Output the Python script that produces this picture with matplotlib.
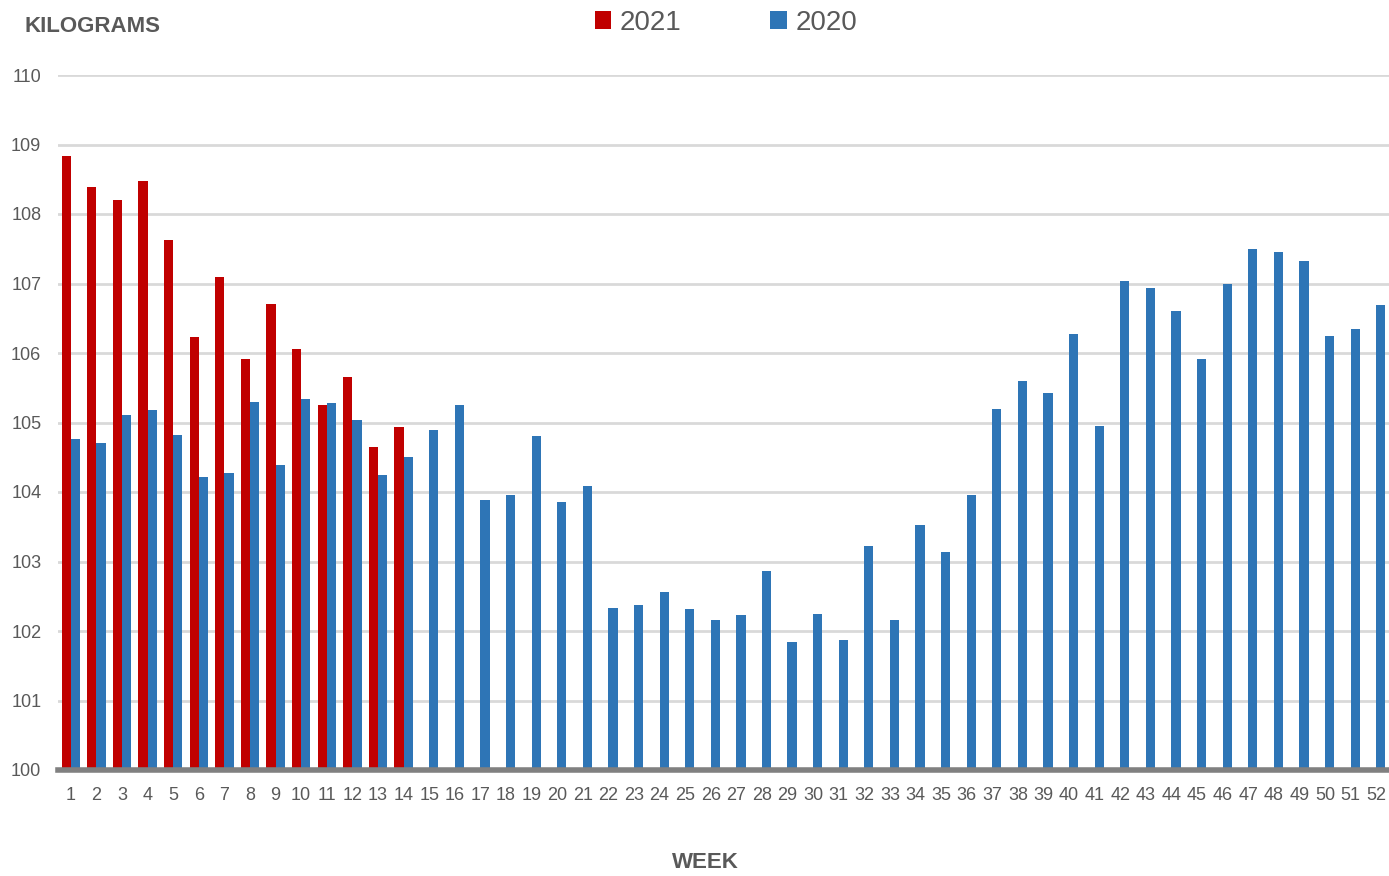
import matplotlib
matplotlib.use("Agg")
import matplotlib.pyplot as plt
import numpy as np
from matplotlib import font_manager

weeks = list(range(1, 53))
kg_2021 = [108.83, 108.39, 108.20, 108.48, 107.62, 106.23, 107.10, 105.92, 106.71, 106.06,
           105.25, 105.65, 104.65, 104.93]
kg_2020 = [104.76, 104.71, 105.11, 105.18, 104.82, 104.22, 104.27, 105.29, 104.39, 105.34,
           105.28, 105.03, 104.25, 104.50, 104.89, 105.25, 103.89, 103.95, 104.81, 103.85,
           104.08, 102.33, 102.38, 102.56, 102.32, 102.16, 102.23, 102.86, 101.84, 102.24,
           101.87, 103.22, 102.16, 103.52, 103.14, 103.95, 105.20, 105.59, 105.42, 106.27,
           104.95, 107.04, 106.93, 106.60, 105.92, 107.00, 107.49, 107.45, 107.32, 106.24,
           106.35, 106.69]
y_ticks = list(range(100, 111))

names = {f.name for f in font_manager.fontManager.ttflist}
narrow = 'Liberation Sans Narrow' if 'Liberation Sans Narrow' in names else 'Liberation Sans'
plt.rcParams['font.family'] = [narrow, 'DejaVu Sans']

RED = '#C00000'
BLUE = '#2E75B6'
GREY = '#595959'

fig = plt.figure(figsize=(13.89, 8.76), dpi=100)
ax = fig.add_axes([58/1389, 1-770/876, 1-58/1389, (770-75)/876])

x = np.arange(len(weeks))
w = 0.36
ax.bar(x[:len(kg_2021)] - w/2, np.array(kg_2021) - 100, width=w, bottom=100, color=RED, label='2021', zorder=3)
ax.bar(x + w/2, np.array(kg_2020) - 100, width=w, bottom=100, color=BLUE, label='2020', zorder=3)

ax.set_xlim(-0.5, len(weeks) - 0.5)
ax.set_ylim(100, 110)
ax.set_yticks(y_ticks)
ax.set_yticklabels([str(t) for t in y_ticks])
ax.set_xticks(x)
ax.set_xticklabels([str(wk) for wk in weeks])
ax.grid(axis='y', color='#d9d9d9', linewidth=2, zorder=0)
for s in ['top', 'right', 'left']:
    ax.spines[s].set_visible(False)
ax.spines['bottom'].set_color('#808080')
ax.spines['bottom'].set_linewidth(4)
ax.spines['bottom'].set_zorder(4)
ax.tick_params(axis='both', length=0, labelsize=13, colors=GREY)
ax.tick_params(axis='y', pad=12)
ax.tick_params(axis='x', pad=12)

fig.text(24/1389, 1-26/876, 'KILOGRAMS', fontsize=16, fontweight='bold', color=GREY, ha='left', va='center')
fig.text(705/1389, 1-862/876, 'WEEK', fontsize=16, fontweight='bold', color=GREY, ha='center', va='center')

leg = fig.legend(loc='center', bbox_to_anchor=(726/1389, 1-23/876), ncol=2, frameon=False,
                 fontsize=20, handlelength=0.6, handleheight=0.6, handletextpad=0.3,
                 columnspacing=3.2, labelcolor=GREY)

fig.savefig('out.png', dpi=100)
